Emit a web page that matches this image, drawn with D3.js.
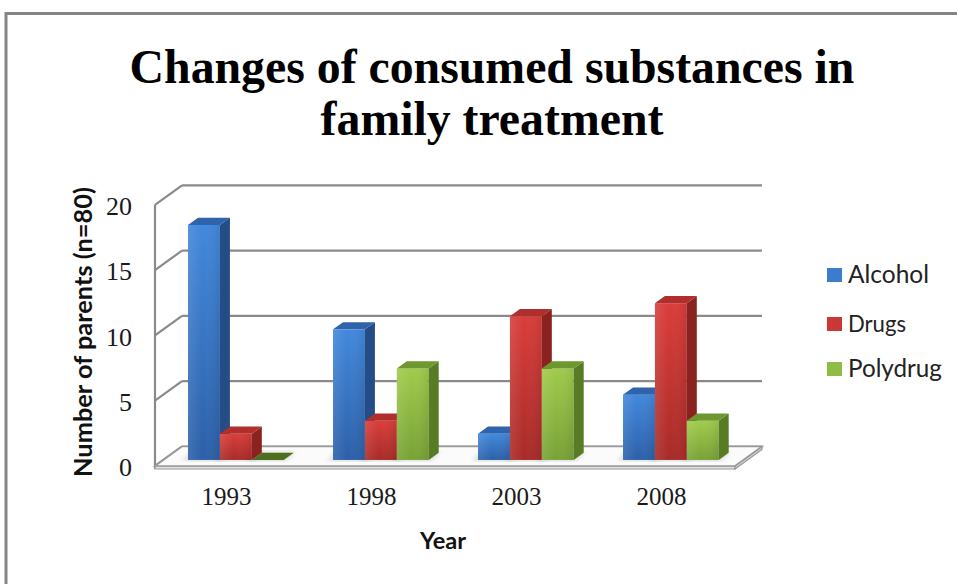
<!DOCTYPE html>
<html>
<head>
<meta charset="utf-8">
<script src="https://cdn.jsdelivr.net/npm/d3@7"></script>
<style>
  html, body { margin: 0; padding: 0; background: #fff; }
  svg { display: block; }
</style>
</head>
<body>
<svg id="chart" width="957" height="584"></svg>
<script>
// ---- data ----
const years = ["1993", "1998", "2003", "2008"];
const seriesNames = ["Alcohol", "Drugs", "Polydrug"];
const alcohol = [18, 10, 2, 5];
const drugs = [2, 3, 11, 12];
const polydrug = [0, 7, 7, 3];
const yTicks = [0, 5, 10, 15, 20];
const titleLines = ["Changes of consumed substances in", "family treatment"];
const yTitle = "Number of parents (n=80)";
const xTitle = "Year";

const seriesValues = [alcohol, drugs, polydrug];

// ---- styling ----
const palette = {
  Alcohol: { front: ["#4288dc", "#2c60a8"], side: "#244c86", top: "#2f64ad", legend: "#3d7ccc" },
  Drugs: { front: ["#d93d3a", "#a82b28"], side: "#8a2320", top: "#b02e2b", legend: "#c93834" },
  Polydrug: { front: ["#a0cb4c", "#78a236"], side: "#587b25", top: "#6f972f", legend: "#8fbc45" }
};

const svg = d3.select("#chart");
const W = 957, H = 584;

// outer frame
svg.append("rect").attr("x", 6).attr("y", 13.5).attr("width", W + 10).attr("height", H + 10)
  .attr("fill", "#fff").attr("stroke", "#858585").attr("stroke-width", 3);

// ---- 3D geometry ----
const floorLeft = 155, floorRight = 735;
const depth = { x: 27, y: -19.5 };
const barFront = 0.31, barDepth = 0.37;

const y = d3.scaleLinear().domain([0, 20]).range([466, 466 - 261.2]);
const x = d3.scaleBand().domain(years).range([floorLeft, floorRight])
  .paddingInner(0.34).paddingOuter(0.17);
const xi = d3.scaleBand().domain(seriesNames).range([0, x.bandwidth()]);

const defs = svg.append("defs");
seriesNames.forEach(s => {
  const g = defs.append("linearGradient").attr("id", "grad-" + s)
    .attr("x1", 0).attr("y1", 0).attr("x2", 0).attr("y2", 1);
  g.append("stop").attr("offset", "0%").attr("stop-color", palette[s].front[0]);
  g.append("stop").attr("offset", "100%").attr("stop-color", palette[s].front[1]);
  const gs = defs.append("linearGradient").attr("id", "gradh-" + s)
    .attr("x1", 0).attr("y1", 0).attr("x2", 1).attr("y2", 0);
  gs.append("stop").attr("offset", "0%").attr("stop-color", "#fff").attr("stop-opacity", 0.10);
  gs.append("stop").attr("offset", "45%").attr("stop-color", "#fff").attr("stop-opacity", 0.0);
  gs.append("stop").attr("offset", "100%").attr("stop-color", "#000").attr("stop-opacity", 0.08);
});
defs.append("filter").attr("id", "blur").append("feGaussianBlur").attr("stdDeviation", 2.2);
defs.append("filter").attr("id", "soft").append("feGaussianBlur").attr("stdDeviation", 0.5);

const walls = svg.append("g").attr("filter", "url(#soft)");
// back wall gridlines + side wall diagonals
yTicks.forEach(t => {
  walls.append("line")
    .attr("x1", floorLeft + depth.x).attr("x2", floorRight + depth.x)
    .attr("y1", y(t) + depth.y).attr("y2", y(t) + depth.y)
    .attr("stroke", "#8a8a8a").attr("stroke-width", 2.2);
  walls.append("line")
    .attr("x1", floorLeft).attr("x2", floorLeft + depth.x)
    .attr("y1", y(t)).attr("y2", y(t) + depth.y)
    .attr("stroke", "#8a8a8a").attr("stroke-width", 2.2);
});
walls.append("line").attr("x1", floorLeft).attr("x2", floorLeft)
  .attr("y1", y(20)).attr("y2", y(0) + 3)
  .attr("stroke", "#8a8a8a").attr("stroke-width", 2.2);

// floor
const floorPts = [[floorLeft, y(0)], [floorRight, y(0)], [floorRight + depth.x, y(0) + depth.y], [floorLeft + depth.x, y(0) + depth.y]];
walls.append("path")
  .attr("d", "M" + [[floorLeft, y(0)], [floorRight, y(0)], [floorRight, y(0) + 3], [floorLeft, y(0) + 3]].join("L") + "Z")
  .attr("fill", "#e2e2e2").attr("stroke", "#9a9a9a").attr("stroke-width", 1.2);
walls.append("path")
  .attr("d", "M" + [[floorRight, y(0)], [floorRight + depth.x, y(0) + depth.y], [floorRight + depth.x, y(0) + depth.y + 3], [floorRight, y(0) + 3]].join("L") + "Z")
  .attr("fill", "#d5d5d5").attr("stroke", "#9a9a9a").attr("stroke-width", 1.2);
walls.append("path").attr("d", "M" + floorPts.join("L") + "Z")
  .attr("fill", "#fbfbfb").attr("stroke", "#9a9a9a").attr("stroke-width", 1.6);

// ---- bars ----
const bars = svg.append("g");
const bx = barFront * depth.x, by = barFront * depth.y;
const dx = barDepth * depth.x, dy = barDepth * depth.y;

// soft shadows
years.forEach((yr, i) => {
  seriesNames.forEach((s, j) => {
    const x0 = x(yr) + xi(s) + bx, x1 = x0 + xi.bandwidth();
    const yb = y(0) + by;
    bars.append("path")
      .attr("d", "M" + [[x0 - 6, yb + 1], [x1 + 2, yb + 1], [x1 + dx + 2, yb + dy - 1], [x0 + dx - 6, yb + dy - 1]].join("L") + "Z")
      .attr("fill", "#9a9a9a").attr("opacity", 0.35).attr("filter", "url(#blur)");
  });
});

years.forEach((yr, i) => {
  seriesNames.forEach((s, j) => {
    const v = seriesValues[j][i];
    const x0 = x(yr) + xi(s) + bx, x1 = x0 + xi.bandwidth();
    const yt = y(v) + by, yb = y(0) + by;
    const p = palette[s];
    const g = bars.append("g");
    if (v > 0) {
      g.append("rect").attr("x", x0).attr("y", yt).attr("width", x1 - x0).attr("height", yb - yt)
        .attr("fill", "url(#grad-" + s + ")");
      g.append("rect").attr("x", x0).attr("y", yt).attr("width", x1 - x0).attr("height", yb - yt)
        .attr("fill", "url(#gradh-" + s + ")");
      g.append("path")
        .attr("d", "M" + [[x1, yt], [x1 + dx, yt + dy], [x1 + dx, yb + dy], [x1, yb]].join("L") + "Z")
        .attr("fill", p.side);
    }
    g.append("path")
      .attr("d", "M" + [[x0, yt], [x1, yt], [x1 + dx, yt + dy], [x0 + dx, yt + dy]].join("L") + "Z")
      .attr("fill", v > 0 ? p.top : "#4d6e1f");
  });
});

// ---- helpers ----
function fit(sel, target) {
  const len = sel.node().getComputedTextLength();
  const fs = parseFloat(sel.attr("font-size"));
  sel.attr("font-size", (fs * target / len).toFixed(2));
  return sel;
}

// ---- axes labels ----
const yAxisG = svg.append("g");
yTicks.forEach(t => {
  yAxisG.append("text").attr("x", 132).attr("y", y(t) + 1).attr("dy", "0.35em")
    .attr("text-anchor", "end").attr("font-family", "Liberation Serif, Times New Roman, serif")
    .attr("font-size", 26).attr("fill", "#1a1a1a").text(t);
});

years.forEach(yr => {
  svg.append("text").attr("x", x(yr) + x.bandwidth() / 2 - 1).attr("y", 505)
    .attr("text-anchor", "middle").attr("font-family", "Liberation Serif, Times New Roman, serif")
    .attr("font-size", 25).attr("fill", "#1a1a1a").text(yr);
});

fit(svg.append("text").attr("x", 443).attr("y", 549).attr("text-anchor", "middle")
  .attr("font-family", "Lato, Open Sans, sans-serif").attr("font-weight", "bold")
  .attr("font-size", 24).attr("fill", "#111").text(xTitle), 46);

fit(svg.append("text").attr("transform", "translate(92,332) rotate(-90)")
  .attr("text-anchor", "middle").attr("font-family", "Lato, Open Sans, sans-serif")
  .attr("font-weight", "bold").attr("font-size", 24).attr("fill", "#111").text(yTitle), 290);

// ---- title ----
const titleW = [725, 343];
const titleY = [83, 135];
titleLines.forEach((t, i) => {
  fit(svg.append("text").attr("x", 492).attr("y", titleY[i]).attr("text-anchor", "middle")
    .attr("font-family", "Liberation Serif, Times New Roman, serif").attr("font-weight", "bold")
    .attr("font-size", 48).attr("fill", "#000").text(t), titleW[i]);
});

// ---- legend ----
const legendY = [275, 324, 369];
const legendW = [81, 58, 94];
seriesNames.forEach((s, i) => {
  svg.append("rect").attr("x", 827).attr("y", legendY[i] - 7).attr("width", 15).attr("height", 14)
    .attr("fill", palette[s].legend);
  fit(svg.append("text").attr("x", 848).attr("y", legendY[i] + 8)
    .attr("font-family", "Lato, Open Sans, sans-serif").attr("font-size", 24)
    .attr("fill", "#222").text(s), legendW[i]);
});
</script>
</body>
</html>
